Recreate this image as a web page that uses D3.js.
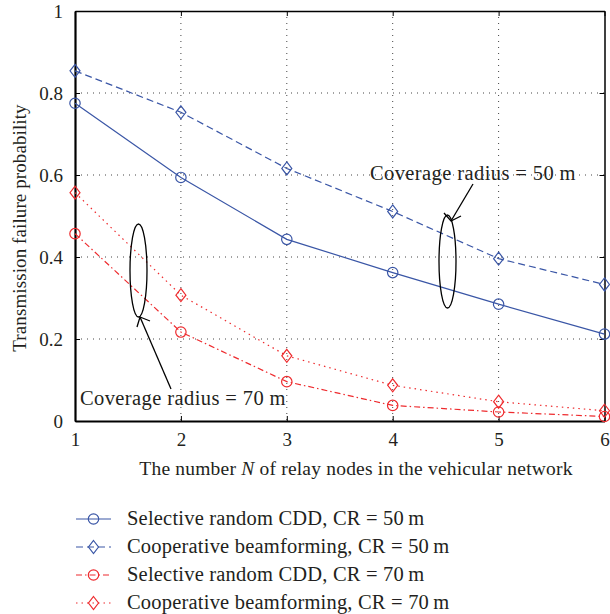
<!DOCTYPE html>
<html>
<head>
<meta charset="utf-8">
<script src="https://cdn.jsdelivr.net/npm/d3@7"></script>
<style>
  body { margin: 0; background: #fff; }
  svg { display: block; font-family: "Liberation Serif", "DejaVu Serif", serif; }
</style>
</head>
<body>
<svg id="chart" width="610" height="614"></svg>
<script>
// relay node counts
const nodes = [1, 2, 3, 4, 5, 6];
// transmission failure probability per series
const cdd50  = [0.775, 0.594, 0.443, 0.362, 0.285, 0.212];
const beam50 = [0.854, 0.753, 0.616, 0.511, 0.396, 0.333];
const cdd70  = [0.457, 0.217, 0.096, 0.038, 0.022, 0.011];
const beam70 = [0.557, 0.307, 0.159, 0.087, 0.047, 0.025];
const seriesNames = [
  "Selective random CDD, CR = 50\u2009m",
  "Cooperative beamforming, CR = 50\u2009m",
  "Selective random CDD, CR = 70\u2009m",
  "Cooperative beamforming, CR = 70\u2009m"
];
const yTicks = [0, 0.2, 0.4, 0.6, 0.8, 1];

const blue = "#3a56a6", red = "#ee2b2e";
const series = [
  {name: seriesNames[0], values: cdd50,  color: blue, dash: null,        marker: "circle"},
  {name: seriesNames[1], values: beam50, color: blue, dash: "7,4",       marker: "diamond"},
  {name: seriesNames[2], values: cdd70,  color: red,  dash: "6,3,1.5,3", marker: "circle"},
  {name: seriesNames[3], values: beam70, color: red,  dash: "1.5,4",     marker: "diamond"}
];

const svg = d3.select("#chart");
const plotL = 75, plotR = 604.5, plotT = 11, plotB = 421;

const x = d3.scaleLinear().domain([1, 6]).range([plotL, plotR]);
const y = d3.scaleLinear().domain([0, 1]).range([plotB, plotT]);

// grid
const grid = svg.append("g").attr("stroke", "#444").attr("stroke-width", 1).attr("stroke-dasharray", "1,5");
grid.selectAll(".vg").data(nodes.slice(1, -1)).join("line")
  .attr("x1", d => x(d)).attr("x2", d => x(d)).attr("y1", plotT).attr("y2", plotB);
grid.selectAll(".hg").data(yTicks.slice(1, -1)).join("line")
  .attr("x1", plotL).attr("x2", plotR).attr("y1", d => y(d)).attr("y2", d => y(d));

// axes
const xAxis = d3.axisBottom(x).tickValues(nodes).tickFormat(d3.format("d")).tickSizeInner(-5).tickSizeOuter(0).tickPadding(12);
const yAxis = d3.axisLeft(y).tickValues(yTicks).tickFormat(d => d === 0 || d === 1 ? d : d3.format(".1f")(d)).tickSizeInner(-5).tickSizeOuter(0).tickPadding(12);
const xTop = d3.axisTop(x).tickValues(nodes).tickFormat("").tickSizeInner(-5).tickSizeOuter(0);
const yRight = d3.axisRight(y).tickValues(yTicks).tickFormat("").tickSizeInner(-5).tickSizeOuter(0);

svg.append("g").attr("transform", `translate(0,${plotT})`).call(xTop);
svg.append("g").attr("transform", `translate(${plotR},0)`).call(yRight);
const gx = svg.append("g").attr("transform", `translate(0,${plotB})`).call(xAxis);
const gy = svg.append("g").attr("transform", `translate(${plotL},0)`).call(yAxis);
svg.selectAll(".domain").attr("stroke", "#000").attr("stroke-width", 1.5);
gx.select(".domain").attr("stroke-width", 2.2);
gy.select(".domain").attr("stroke-width", 2.2);
svg.selectAll(".tick line").attr("stroke", "#000");
svg.selectAll(".tick text").attr("font-family", "Liberation Serif, serif").attr("font-size", 19).attr("fill", "#231f20");

// axis titles
svg.append("text").attr("x", 356).attr("y", 475).attr("text-anchor", "middle").attr("font-size", 19.5)
  .attr("letter-spacing", 0.2).attr("fill", "#231f20")
  .html('The number <tspan font-style="italic">N</tspan> of relay nodes in the vehicular network');
svg.append("text").attr("transform", "translate(26,228) rotate(-90)").attr("text-anchor", "middle").attr("font-size", 19)
  .attr("letter-spacing", 0.1).attr("fill", "#231f20")
  .text("Transmission failure probability");

function drawMarker(g, kind, color) {
  if (kind === "circle") {
    g.append("circle").attr("r", 5.2).attr("fill", "none").attr("stroke", color).attr("stroke-width", 1.2);
  } else {
    g.append("path").attr("d", "M0,-6.5L5,0L0,6.5L-5,0Z").attr("fill", "none").attr("stroke", color).attr("stroke-width", 1.2);
  }
}

const line = d3.line().x((d, i) => x(nodes[i])).y(d => y(d));
series.forEach(s => {
  svg.append("path").datum(s.values).attr("d", line).attr("fill", "none")
    .attr("stroke", s.color).attr("stroke-width", 1.2).attr("stroke-dasharray", s.dash);
  s.values.forEach((v, i) => {
    const g = svg.append("g").attr("transform", `translate(${x(nodes[i])},${y(v)})`);
    drawMarker(g, s.marker, s.color);
  });
});

// annotations
const ann = svg.append("g").attr("stroke", "#000").attr("stroke-width", 1.3).attr("fill", "none");
ann.append("ellipse").attr("cx", 447.5).attr("cy", 261.5).attr("rx", 8.5).attr("ry", 46.5);
ann.append("ellipse").attr("cx", 138.5).attr("cy", 270.5).attr("rx", 8.5).attr("ry", 46.5);
ann.append("line").attr("x1", 473).attr("y1", 184).attr("x2", 451).attr("y2", 221);
ann.append("path").attr("d", "M444,213L451,221L461,216");
ann.append("line").attr("x1", 171).attr("y1", 389).attr("x2", 140).attr("y2", 317);
ann.append("path").attr("d", "M137,327L140,317L150,321");
svg.append("text").attr("x", 370).attr("y", 180).attr("font-size", 20.5).attr("letter-spacing", 0.4)
  .attr("fill", "#231f20").text("Coverage radius = 50 m");
svg.append("text").attr("x", 80).attr("y", 405).attr("font-size", 20.5).attr("letter-spacing", 0.4)
  .attr("fill", "#231f20").text("Coverage radius = 70 m");

// legend
const leg = svg.append("g");
series.forEach((s, i) => {
  const cy = 519 + i * 28;
  const row = leg.append("g").attr("transform", `translate(0,${cy})`);
  row.append("line").attr("x1", 76).attr("x2", 111).attr("y1", 0).attr("y2", 0)
    .attr("stroke", s.color).attr("stroke-width", 1.2).attr("stroke-dasharray", s.dash);
  drawMarker(row.append("g").attr("transform", "translate(93.5,0)"), s.marker, s.color);
  row.append("text").attr("x", 127).attr("y", 6).attr("font-size", 20.5).attr("letter-spacing", 0.2)
    .attr("fill", "#231f20").text(s.name);
});
</script>
</body>
</html>
